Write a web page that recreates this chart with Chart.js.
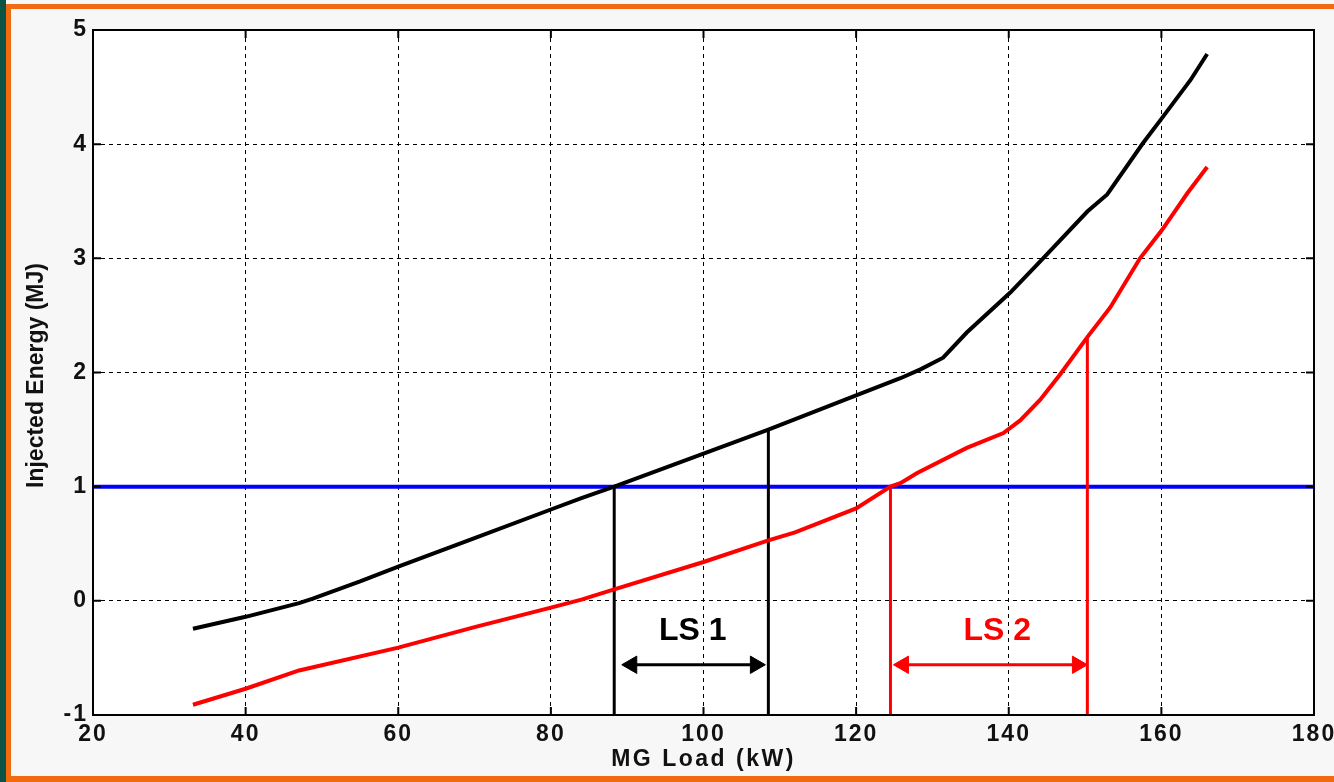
<!DOCTYPE html>
<html>
<head>
<meta charset="utf-8">
<title>Injected Energy vs MG Load</title>
<script src="https://cdn.jsdelivr.net/npm/chart.js@4.4.1/dist/chart.umd.min.js"></script>
<style>
  html, body { margin: 0; padding: 0; }
  body { width: 1334px; height: 782px; position: relative; overflow: hidden; background: #f7f7f7; }
  .edge { position: absolute; }
  #green { left: 0; top: 0; width: 6px; height: 782px; background: #0b5345; }
  #oLeft { left: 6px; top: 4px; width: 5px; height: 778px; background: #f26a10; }
  #oTop { left: 6px; top: 4px; right: 0; height: 5px; background: #f26a10; }
  #oBottom { left: 6px; top: 776px; right: 0; height: 6px; background: #f26a10; }
  #chart { position: absolute; left: 0; top: 0; }
</style>
</head>
<body>
<div class="edge" id="green"></div>
<div class="edge" id="oLeft"></div>
<div class="edge" id="oTop"></div>
<div class="edge" id="oBottom"></div>
<canvas id="chart" width="1334" height="782"></canvas>
<script>
// data
const loadBlack = [33.1, 40, 47, 48.8, 55, 60, 70, 80, 84, 88.3, 100, 108.5, 120, 125.8, 128.5, 131.4, 134.5, 140.2, 144.5, 150.3, 152.9, 157.6, 160.1, 163.8, 166.0];
const energyBlack = [-0.245, -0.14, -0.02, 0.02, 0.17, 0.30, 0.55, 0.80, 0.90, 1.0, 1.29, 1.50, 1.80, 1.95, 2.03, 2.13, 2.35, 2.70, 3.0, 3.41, 3.56, 4.01, 4.23, 4.56, 4.79];
const loadRed = [33.1, 40, 47, 60, 70, 80, 84, 88.3, 100, 108.5, 112, 120, 124.5, 125.8, 128, 134.5, 139.3, 141.5, 144.1, 146.7, 150.3, 153.3, 157.2, 160.1, 163.4, 166.0];
const energyRed = [-0.91, -0.77, -0.61, -0.41, -0.23, -0.06, 0.01, 0.10, 0.34, 0.53, 0.60, 0.81, 1.0, 1.03, 1.12, 1.34, 1.47, 1.58, 1.76, 1.98, 2.31, 2.57, 3.0, 3.25, 3.57, 3.80];
const limitLoad = [20, 180];
const limitEnergy = [1, 1];
const dropLoads = [88.3, 108.5, 124.5, 150.3];
const dropTops = [1.0, 1.5, 1.0, 2.3];
const ls1Span = [90.6, 106.8];
const ls2Span = [126.2, 149.0];
const arrowLevel = -0.56;
const shedLabels = ['LS 1', 'LS 2'];
const shedLabelAt = [[98.6, -0.27], [138.5, -0.27]];
const xTicks = [20, 40, 60, 80, 100, 120, 140, 160, 180];
const yTicks = [-1, 0, 1, 2, 3, 4, 5];

const FONT = '"Liberation Sans", Arial, sans-serif';
const pts = (xs, ys) => xs.map((x, i) => ({ x, y: ys[i] }));

function curve(data, color, width) {
    return { data, borderColor: color, borderWidth: width, pointRadius: 0, tension: 0, fill: false };
}

function dropLine(i, color) {
    return curve([{ x: dropLoads[i], y: -1 }, { x: dropLoads[i], y: dropTops[i] }], color, 3);
}

function arrow(span, color) {
    return {
        data: [{ x: span[0], y: arrowLevel }, { x: span[1], y: arrowLevel }],
        borderColor: color,
        backgroundColor: color,
        borderWidth: 3,
        pointStyle: 'triangle',
        pointRadius: 10,
        pointBorderWidth: 1,
        pointBackgroundColor: color,
        pointRotation: c => (c.dataIndex === 0 ? -90 : 90),
        tension: 0
    };
}

// white plot area + wider letter spacing for tick labels
const backdrop = {
    id: 'backdrop',
    beforeDraw(chart) {
        const { ctx, chartArea: a } = chart;
        ctx.fillStyle = '#fff';
        ctx.fillRect(a.left, a.top, a.right - a.left, a.bottom - a.top);
        ctx.letterSpacing = '2px';
    }
};

// box frame, inside ticks, axis titles and LS labels
const overlay = {
    id: 'overlay',
    afterDraw(chart) {
        const { ctx, chartArea: a, scales: { x, y } } = chart;
        ctx.save();
        ctx.setLineDash([]);
        ctx.strokeStyle = '#000';
        ctx.lineWidth = 2;
        ctx.beginPath();
        xTicks.forEach(v => {
            const px = x.getPixelForValue(v);
            ctx.moveTo(px, a.bottom); ctx.lineTo(px, a.bottom - 8);
            ctx.moveTo(px, a.top); ctx.lineTo(px, a.top + 8);
        });
        yTicks.forEach(v => {
            const py = y.getPixelForValue(v);
            ctx.moveTo(a.left, py); ctx.lineTo(a.left + 8, py);
            ctx.moveTo(a.right, py); ctx.lineTo(a.right - 8, py);
        });
        ctx.stroke();
        ctx.strokeRect(a.left, a.top, a.right - a.left, a.bottom - a.top);

        ctx.fillStyle = '#111';
        ctx.textAlign = 'center';
        ctx.textBaseline = 'middle';
        ctx.font = 'bold 23px ' + FONT;
        ctx.letterSpacing = '2.5px';
        ctx.fillText('MG Load (kW)', (a.left + a.right) / 2, 760);

        ctx.letterSpacing = '0px';
        ctx.save();
        ctx.translate(37, (a.top + a.bottom) / 2 + 3);
        ctx.rotate(-Math.PI / 2);
        ctx.fillText('Injected Energy (MJ)', 0, 0);
        ctx.restore();

        ctx.font = 'bold 32px ' + FONT;
        const labelColors = ['#000', '#ff0000'];
        shedLabels.forEach((t, i) => {
            ctx.fillStyle = labelColors[i];
            ctx.fillText(t, x.getPixelForValue(shedLabelAt[i][0]), y.getPixelForValue(shedLabelAt[i][1]));
        });
        ctx.restore();
    }
};

const tickFont = { family: FONT, size: 23, weight: 'bold' };

new Chart(document.getElementById('chart'), {
    type: 'line',
    data: {
        datasets: [
            curve(pts(loadBlack, energyBlack), '#000', 4),
            curve(pts(loadRed, energyRed), '#ff0000', 4),
            dropLine(0, '#000'),
            dropLine(1, '#000'),
            dropLine(2, '#ff0000'),
            dropLine(3, '#ff0000'),
            arrow(ls1Span, '#000'),
            arrow(ls2Span, '#ff0000'),
            curve(pts(limitLoad, limitEnergy), '#0000ff', 4)
        ]
    },
    options: {
        responsive: false,
        animation: false,
        layout: { padding: { left: 0, top: 30, right: 20, bottom: 0 } },
        plugins: { legend: { display: false }, tooltip: { enabled: false } },
        scales: {
            x: {
                type: 'linear',
                min: 20,
                max: 180,
                afterBuildTicks: s => { s.ticks = xTicks.map(v => ({ value: v })); },
                ticks: { color: '#111', font: tickFont, padding: 6, autoSkip: false, maxRotation: 0 },
                grid: { color: '#000', lineWidth: 1, drawTicks: false },
                border: { display: false, dash: [4, 4] },
                afterFit: s => { s.height = 67; s.paddingLeft = 0; s.paddingRight = 0; }
            },
            y: {
                type: 'linear',
                min: -1,
                max: 5,
                afterBuildTicks: s => { s.ticks = yTicks.map(v => ({ value: v })); },
                ticks: { color: '#111', font: tickFont, padding: 5 },
                grid: { color: '#000', lineWidth: 1, drawTicks: false },
                border: { display: false, dash: [4, 4] },
                afterFit: s => { s.width = 93; s.paddingTop = 0; s.paddingBottom = 0; }
            }
        }
    },
    plugins: [backdrop, overlay]
});
</script>
</body>
</html>
